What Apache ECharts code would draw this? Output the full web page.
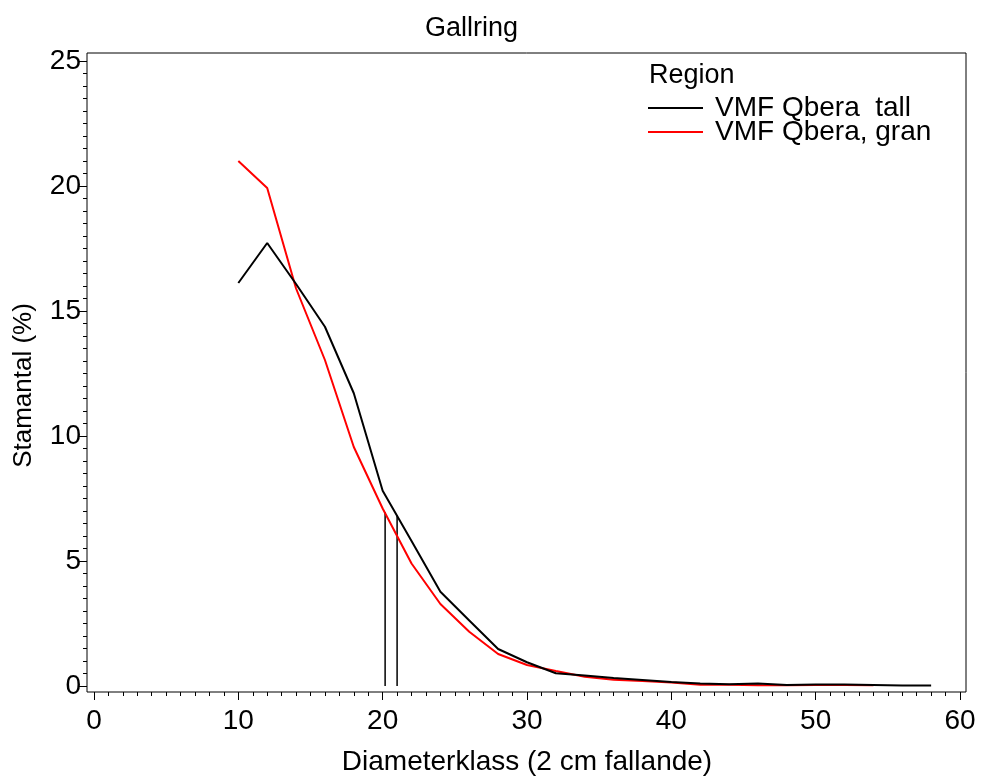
<!DOCTYPE html>
<html>
<head>
<meta charset="utf-8">
<script src="https://cdn.jsdelivr.net/npm/echarts@6/dist/echarts.min.js"></script>
<style>html,body{margin:0;padding:0;background:#fff}#c{width:982px;height:778px}</style>
</head>
<body>
<div id="c"></div>
<script>
const diameter = [10,12,14,16,18,20,22,24,26,28,30,32,34,36,38,40,42,44,46,48,50,52,54,56,58];
const tall = [16.12,17.72,16.08,14.37,11.71,7.81,5.8,3.77,2.62,1.48,0.95,0.51,0.42,0.32,0.24,0.16,0.1,0.07,0.1,0.04,0.06,0.06,0.04,0.02,0.02];
const granX = [10,12,14,16,18,20,22,24,26,28,30,32,34,36,38,40,42,44,46,48,50,52,54];
const gran = [21.0,19.92,15.9,13.04,9.56,7.1,4.9,3.28,2.17,1.28,0.84,0.6,0.37,0.25,0.2,0.14,0.05,0.05,0.03,0.03,0.04,0.04,0.03];
const refX = [20.17, 21.0];
const refTop = [6.95, 6.84];
const seriesNames = ['VMF Qbera  tall', 'VMF Qbera, gran'];
const xTicks = [0,10,20,30,40,50,60];
const yTicks = [0,5,10,15,20,25];

const FONT = 'Liberation Sans, Arial, sans-serif';
const chart = echarts.init(document.getElementById('c'), null, {renderer:'canvas'});
const refSeries = refX.map((x,i)=>({
  type:'line', xAxisIndex:1, yAxisIndex:1, symbol:'none', silent:true,
  data:[[x,0],[x,refTop[i]]],
  lineStyle:{color:'#000', width:1.5}, z:1
}));
const xMin = xTicks[0], xMax = xTicks[xTicks.length-1];
const yMin = yTicks[0], yMax = yTicks[yTicks.length-1];
const noLine = {show:false, onZero:false};
chart.setOption({
  animation:false,
  backgroundColor:'#fff',
  textStyle:{fontFamily:FONT},
  title:[
    {text:'Gallring', left:420, top:10, textStyle:{fontFamily:FONT, fontSize:27, fontWeight:'normal', color:'#000'}},
    {text:'Region', left:644, top:57, textStyle:{fontFamily:FONT, fontSize:27, fontWeight:'normal', color:'#000'}}
  ],
  legend:{
    orient:'vertical', left:648, top:94, padding:0, data:seriesNames,
    icon:'rect', itemWidth:55, itemHeight:2, itemGap:-4,
    textStyle:{fontFamily:FONT, fontSize:28, color:'#000', padding:[0,0,0,7]}
  },
  grid:[
    {left:87, right:16, top:53, bottom:86, show:true, borderColor:'#000', borderWidth:1, backgroundColor:'transparent', containLabel:false, outerBoundsMode:'none'},
    {left:94, right:22, top:61, bottom:92, containLabel:false, outerBoundsMode:'none'}
  ],
  xAxis:[
    {gridIndex:0, type:'value', show:false, min:0, max:1, axisLine:noLine},
    {gridIndex:1, type:'value', position:'bottom', min:xMin, max:xMax, interval:10, offset:6,
     axisLine:noLine, splitLine:{show:false},
     axisTick:{show:true, length:8, lineStyle:{color:'#000'}},
     axisLabel:{fontFamily:FONT, fontSize:28, color:'#000', margin:15},
     name:'Diameterklass (2 cm fallande)', nameLocation:'middle', nameGap:56,
     nameTextStyle:{fontFamily:FONT, fontSize:28, color:'#000'}},
    {gridIndex:1, type:'value', position:'bottom', min:xMin, max:xMax, interval:1, offset:6,
     axisLine:noLine, splitLine:{show:false}, axisLabel:{show:false},
     axisTick:{show:true, length:4, lineStyle:{color:'#000'}}}
  ],
  yAxis:[
    {gridIndex:0, type:'value', show:false, min:0, max:1, axisLine:noLine},
    {gridIndex:1, type:'value', position:'left', min:yMin, max:yMax, interval:5, offset:7,
     axisLine:noLine, splitLine:{show:false},
     axisTick:{show:true, length:8, lineStyle:{color:'#000'}},
     axisLabel:{fontFamily:FONT, fontSize:28, color:'#000', margin:6},
     name:'Stamantal (%)', nameLocation:'middle', nameGap:50, nameRotate:90,
     nameTextStyle:{fontFamily:FONT, fontSize:26, color:'#000', padding:[0,24,0,0]}},
    {gridIndex:1, type:'value', position:'left', min:yMin, max:yMax, interval:0.5, offset:7,
     axisLine:noLine, splitLine:{show:false}, axisLabel:{show:false},
     axisTick:{show:true, length:4, lineStyle:{color:'#000'}}}
  ],
  series:[
    ...refSeries,
    {name:seriesNames[0], type:'line', xAxisIndex:1, yAxisIndex:1, symbol:'none',
     data:diameter.map((d,i)=>[d,tall[i]]), lineStyle:{color:'#000', width:2}, itemStyle:{color:'#000'}, z:3},
    {name:seriesNames[1], type:'line', xAxisIndex:1, yAxisIndex:1, symbol:'none',
     data:granX.map((d,i)=>[d,gran[i]]), lineStyle:{color:'#ff0000', width:2}, itemStyle:{color:'#ff0000'}, z:2}
  ]
});
</script>
</body>
</html>
